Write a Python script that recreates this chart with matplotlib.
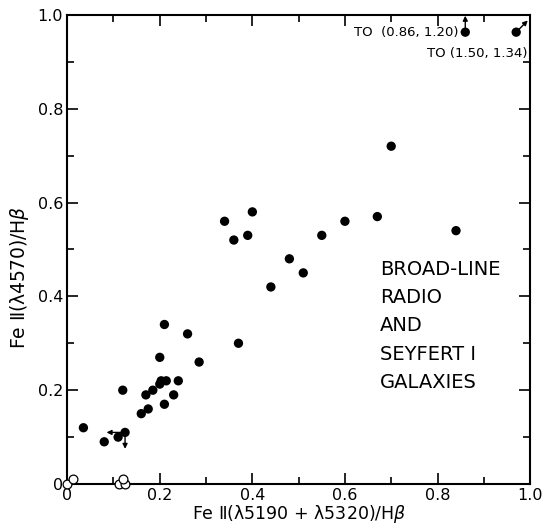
import matplotlib
matplotlib.use('Agg')
import matplotlib.pyplot as plt
from matplotlib.ticker import MultipleLocator, FuncFormatter

plt.rcParams['font.family'] = ['DejaVu Sans']

# Fe II(4570)/Hb vs Fe II(5190+5320)/Hb, filled points
fe_blend = [0.70, 0.55, 0.60, 0.67, 0.84, 0.51, 0.48, 0.44, 0.34, 0.40, 0.36, 0.39,
            0.37, 0.21, 0.26, 0.20, 0.285, 0.20, 0.203, 0.214, 0.24, 0.12, 0.185,
            0.17, 0.23, 0.21, 0.175, 0.16, 0.035, 0.125, 0.11, 0.08, 0.86, 0.97]
fe_4570 = [0.72, 0.53, 0.56, 0.57, 0.54, 0.45, 0.48, 0.42, 0.56, 0.58, 0.52, 0.53,
           0.30, 0.34, 0.32, 0.27, 0.26, 0.213, 0.22, 0.22, 0.22, 0.20, 0.20,
           0.19, 0.19, 0.17, 0.16, 0.15, 0.12, 0.11, 0.10, 0.09, 0.963, 0.963]

# open circles
open_x = [0.0, 0.012, 0.111, 0.125, 0.12]
open_y = [0.0, 0.011, 0.0, 0.0, 0.01]

# limit arrows: (x, y, dx, dy)
arrows = [(0.125, 0.11, -0.04, 0.0), (0.125, 0.11, 0.0, -0.035),
          (0.86, 0.963, 0.0, 0.035), (0.97, 0.963, 0.025, 0.025)]

fig = plt.figure(figsize=(5.42, 5.29), dpi=100)
ax = fig.add_axes([0.124, 0.085, 0.854, 0.887])

ax.scatter(fe_blend, fe_4570, s=45, c='black', edgecolors='none', zorder=3, clip_on=False)
ax.scatter(open_x, open_y, s=40, facecolors='white', edgecolors='black', linewidths=0.9,
           zorder=4, clip_on=False)

for x, y, dx, dy in arrows:
    ax.annotate('', xy=(x + dx, y + dy), xytext=(x, y),
                arrowprops=dict(arrowstyle='-|>', color='black', lw=1.0,
                                mutation_scale=7, shrinkA=0, shrinkB=0),
                annotation_clip=False)

ax.text(0.845, 0.962, 'TO  (0.86, 1.20)', ha='right', va='center', fontsize=9.5)
ax.text(0.995, 0.918, 'TO (1.50, 1.34)', ha='right', va='center', fontsize=9.5)

ax.text(0.675, 0.478, 'BROAD-LINE\nRADIO\nAND\nSEYFERT I\nGALAXIES', ha='left', va='top',
        fontsize=14, linespacing=1.62)

ax.set_xlim(0, 1.0)
ax.set_ylim(0, 1.0)
ax.xaxis.set_major_locator(MultipleLocator(0.2))
ax.xaxis.set_minor_locator(MultipleLocator(0.1))
ax.yaxis.set_major_locator(MultipleLocator(0.2))
ax.yaxis.set_minor_locator(MultipleLocator(0.1))
fmt = FuncFormatter(lambda v, p: '0' if abs(v) < 1e-9 else '%.1f' % v)
ax.xaxis.set_major_formatter(fmt)
ax.yaxis.set_major_formatter(fmt)
ax.tick_params(which='both', direction='in', top=True, right=True, width=1.2, labelsize=11.5)
ax.tick_params(which='major', length=8)
ax.tick_params(which='minor', length=5)
ax.tick_params(axis='x', pad=3)
ax.tick_params(axis='y', pad=3)
for sp in ax.spines.values():
    sp.set_linewidth(1.5)

ax.set_xlabel('Fe Ⅱ(λ5190 + λ5320)/H$\\beta$', fontsize=12.5, labelpad=0)
ax.set_ylabel('Fe Ⅱ(λ4570)/H$\\beta$', fontsize=13.5)
ax.yaxis.set_label_coords(-0.078, 0.44)

fig.savefig('out.png', dpi=100)
